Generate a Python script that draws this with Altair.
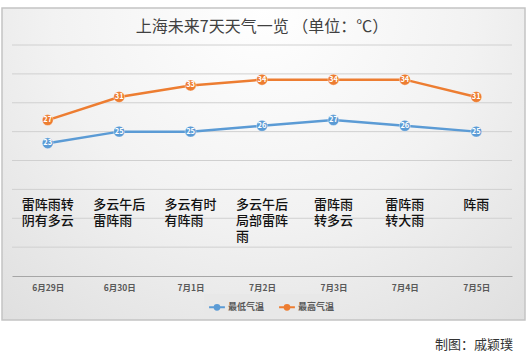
import altair as alt
import pandas as pd

days = ["6月29日", "6月30日", "7月1日", "7月2日", "7月3日", "7月4日", "7月5日"]
weather = ["雷阵雨转\n阴有多云", "多云午后\n雷阵雨", "多云有时\n有阵雨", "多云午后\n局部雷阵\n雨",
           "雷阵雨\n转多云", "雷阵雨\n转大雨", "阵雨"]
low = [23, 25, 25, 26, 27, 26, 25]
high = [27, 31, 33, 34, 34, 34, 31]
series_names = ["最低气温", "最高气温"]
series_colors = ["#5b9bd5", "#ed7d31"]
grid_values = [5, 10, 15, 20, 25, 30, 35, 40]
title_text = "上海未来7天天气一览 （单位：℃）"
credit = "制图：戚颖璞"

FONT = "Noto Sans CJK SC"

rows = []
for d, lo, hi in zip(days, low, high):
    rows.append({"day": d, "series": series_names[0], "temp": lo})
    rows.append({"day": d, "series": series_names[1], "temp": hi})
df = pd.DataFrame(rows)

wdf = pd.DataFrame({"day": days, "weather": weather})
wdf["off"] = [-max(len(s) for s in w.split("\n")) * 6.5 for w in weather]

y_scale = alt.Scale(domain=[0, 40])

x_enc = alt.X("day:N", sort=days,
              scale=alt.Scale(type="point", padding=0.5),
              axis=alt.Axis(title=None, ticks=False, grid=False, labelAngle=0,
                            labelPadding=7, labelFontSize=8.5, labelFontWeight="bold",
                            labelColor="#595959", labelFont=FONT, zindex=1,
                            domainColor="#a6a6a6", domainWidth=1.2))
y_enc = alt.Y("temp:Q", scale=y_scale, axis=None)
color_enc = alt.Color("series:N", sort=series_names,
                      scale=alt.Scale(domain=series_names, range=series_colors),
                      legend=alt.Legend(title=None, orient="none", direction="horizontal",
                                        legendX=192, legendY=249,
                                        fillColor="#e8e8e8", padding=4,
                                        labelFont=FONT, labelFontSize=9, labelColor="#595959",
                                        labelFontWeight="bold",
                                        symbolType="M-1,0L1,0M0.3,0A0.3,0.3 0 1,1 -0.3,0A0.3,0.3 0 1,1 0.3,0Z",
                                        symbolSize=250, symbolStrokeWidth=2,
                                        columnPadding=10, labelOffset=2))

bg = alt.Chart(pd.DataFrame({"a": [0]})).mark_rect(
    fill=alt.Gradient(gradient="radial",
                      stops=[alt.GradientStop(color="#ffffff", offset=0),
                             alt.GradientStop(color="#f2f2f2", offset=0.45),
                             alt.GradientStop(color="#d9d9d9", offset=1)],
                      x1=0.5, y1=0.2, r1=0, x2=0.5, y2=0.2, r2=0.9),
    stroke="#c4c4c4", strokeWidth=1.5
).encode(x=alt.value(-10), x2=alt.value(513), y=alt.value(-37), y2=alt.value(275))

grid = alt.Chart(pd.DataFrame({"g": grid_values})).mark_rule(
    color="#d0d0d0", strokeWidth=1
).encode(y=alt.Y("g:Q", scale=y_scale, axis=None), x=alt.value(0), x2=alt.value(500))

title_t = alt.Chart(pd.DataFrame({"t": [title_text]})).mark_text(
    align="center", baseline="middle", fontSize=16, font=FONT, color="#404040"
).encode(x=alt.value(250), y=alt.value(-18), text="t:N")

base = alt.Chart(df)
lines = base.mark_line(strokeWidth=2.5).encode(x=x_enc, y=y_enc, color=color_enc)
points = base.mark_point(filled=True, size=120, opacity=1, stroke="#ffffff",
                         strokeWidth=0.6, strokeOpacity=0.6).encode(
    x=alt.X("day:N", sort=days), y=alt.Y("temp:Q"),
    color=alt.Color("series:N", legend=None))
labels = base.mark_text(color="white", fontSize=7.5, fontWeight="bold", font=FONT).encode(
    x=alt.X("day:N", sort=days), y=alt.Y("temp:Q"), text="temp:Q")

wtext = alt.Chart(wdf).mark_text(lineBreak="\n", align="left", baseline="top",
                                 lineHeight=16, fontSize=13, font=FONT,
                                 color="#111111", fontWeight=500).encode(
    x=alt.X("day:N", sort=days), y=alt.datum(13.3),
    xOffset=alt.XOffset("off:Q", scale=None), text="weather:N")

credit_t = alt.Chart(pd.DataFrame({"t": [credit]})).mark_text(
    align="right", baseline="middle", fontSize=13, font=FONT, color="#333333"
).encode(x=alt.value(501), y=alt.value(300), text="t:N")

chart = alt.layer(bg, grid, title_t, lines, points, labels, wtext, credit_t).properties(
    width=500, height=231,
    autosize=alt.AutoSizeParams(type="none"),
    padding={"left": 12, "top": 45, "right": 18, "bottom": 78},
    background="white"
).configure_view(stroke=None)

chart.save("out.html", embed_options={"renderer": "svg", "actions": False})
